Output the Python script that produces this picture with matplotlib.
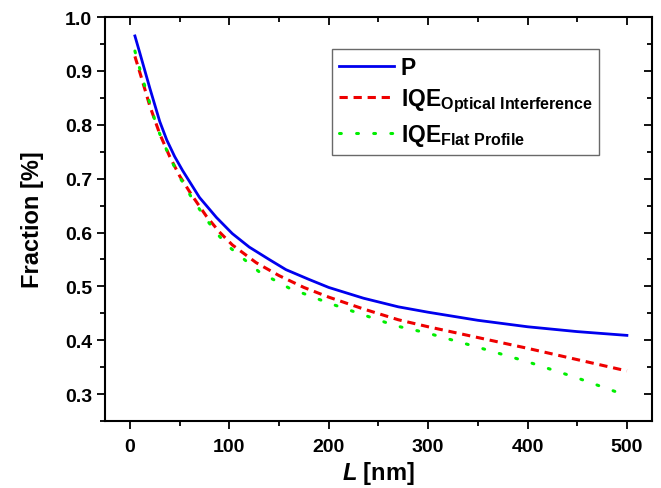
import matplotlib

matplotlib.use("Agg")
import matplotlib.pyplot as plt
from matplotlib.ticker import MultipleLocator, FormatStrFormatter

plt.rcParams["font.family"] = ["Liberation Sans", "DejaVu Sans"]
plt.rcParams["font.weight"] = "bold"
plt.rcParams["mathtext.fontset"] = "custom"
plt.rcParams["mathtext.rm"] = "Liberation Sans:bold"
plt.rcParams["mathtext.bf"] = "Liberation Sans:bold"
plt.rcParams["mathtext.it"] = "Liberation Sans:bold:italic"

# --- data ---
L_P = [5, 10, 20, 30, 37, 45, 53, 70, 87, 103, 120, 140, 157, 180, 200, 235, 270, 300, 350, 400, 450, 500]
P = [0.965, 0.933, 0.868, 0.806, 0.772, 0.741, 0.715, 0.665, 0.628, 0.598, 0.573, 0.550, 0.531, 0.513, 0.498,
     0.478, 0.462, 0.452, 0.437, 0.425, 0.416, 0.409]

L_OI = [5, 10, 20, 30, 40, 50, 62, 77, 90, 103, 127, 150, 175, 200, 235, 270, 300, 350, 400, 450, 500]
IQE_OI = [0.927, 0.897, 0.835, 0.783, 0.741, 0.705, 0.670, 0.630, 0.601, 0.577, 0.544, 0.520, 0.498, 0.480,
          0.458, 0.438, 0.425, 0.405, 0.385, 0.364, 0.343]

L_FP = [5, 10, 20, 25, 30, 40, 50, 62, 77, 90, 100, 130, 160, 200, 235, 267, 300, 350, 400, 450, 500]
IQE_FP = [0.937, 0.903, 0.840, 0.809, 0.783, 0.740, 0.703, 0.665, 0.624, 0.593, 0.573, 0.527, 0.497, 0.469,
          0.447, 0.427, 0.413, 0.387, 0.360, 0.330, 0.297]

fig, ax = plt.subplots(figsize=(6.61, 4.89), dpi=100)
fig.subplots_adjust(left=0.159, right=0.986, bottom=0.137, top=0.963)

ax.plot(L_P, P, color="#0000ee", linewidth=2.0, label="P")
ax.plot(L_OI, IQE_OI, color="#ee0000", linewidth=2.2, linestyle=(0, (2.7, 1.9)),
        label=r"IQE$_{\mathrm{Optical\ Interference}}$")
ax.plot(L_FP, IQE_FP, color="#00ee00", linewidth=2.2, linestyle=(0, (0.6, 5.0)),
        dash_capstyle="round", label=r"IQE$_{\mathrm{Flat\ Profile}}$")

ax.set_xlim(-25, 525)
ax.set_ylim(0.25, 1.0)
ax.xaxis.set_major_locator(MultipleLocator(100))
ax.xaxis.set_minor_locator(MultipleLocator(50))
ax.yaxis.set_major_locator(MultipleLocator(0.1))
ax.yaxis.set_minor_locator(MultipleLocator(0.05))
ax.yaxis.set_major_formatter(FormatStrFormatter("%.1f"))

for s in ax.spines.values():
    s.set_linewidth(1.5)
ax.tick_params(which="both", direction="out", width=1.3, labelsize=14)
ax.tick_params(which="major", length=6)
ax.tick_params(which="minor", length=3.5)
ax.tick_params(axis="x", which="major", pad=6)
ax.tick_params(which="both", top=True, right=True)
# top/right ticks point inward, left/bottom outward
for t in ax.xaxis.get_major_ticks() + ax.xaxis.get_minor_ticks():
    t.tick2line.set_marker(matplotlib.lines.TICKDOWN)
for t in ax.yaxis.get_major_ticks() + ax.yaxis.get_minor_ticks():
    t.tick2line.set_marker(matplotlib.lines.TICKLEFT)

ax.set_xlabel(r"$\mathit{L}$ [nm]", fontsize=17, fontweight="bold", labelpad=3)
ax.set_ylabel("Fraction [%]", fontsize=17, fontweight="bold", labelpad=15)

leg = ax.legend(loc="upper left", bbox_to_anchor=(0.415, 0.921), fontsize=16.5,
                frameon=True, fancybox=False, edgecolor="#444444",
                handlelength=2.4, handletextpad=0.3, borderpad=0.3,
                labelspacing=0.35, borderaxespad=0)
leg.get_frame().set_linewidth(1.0)

plt.savefig("out.png", dpi=100)
plt.close(fig)
